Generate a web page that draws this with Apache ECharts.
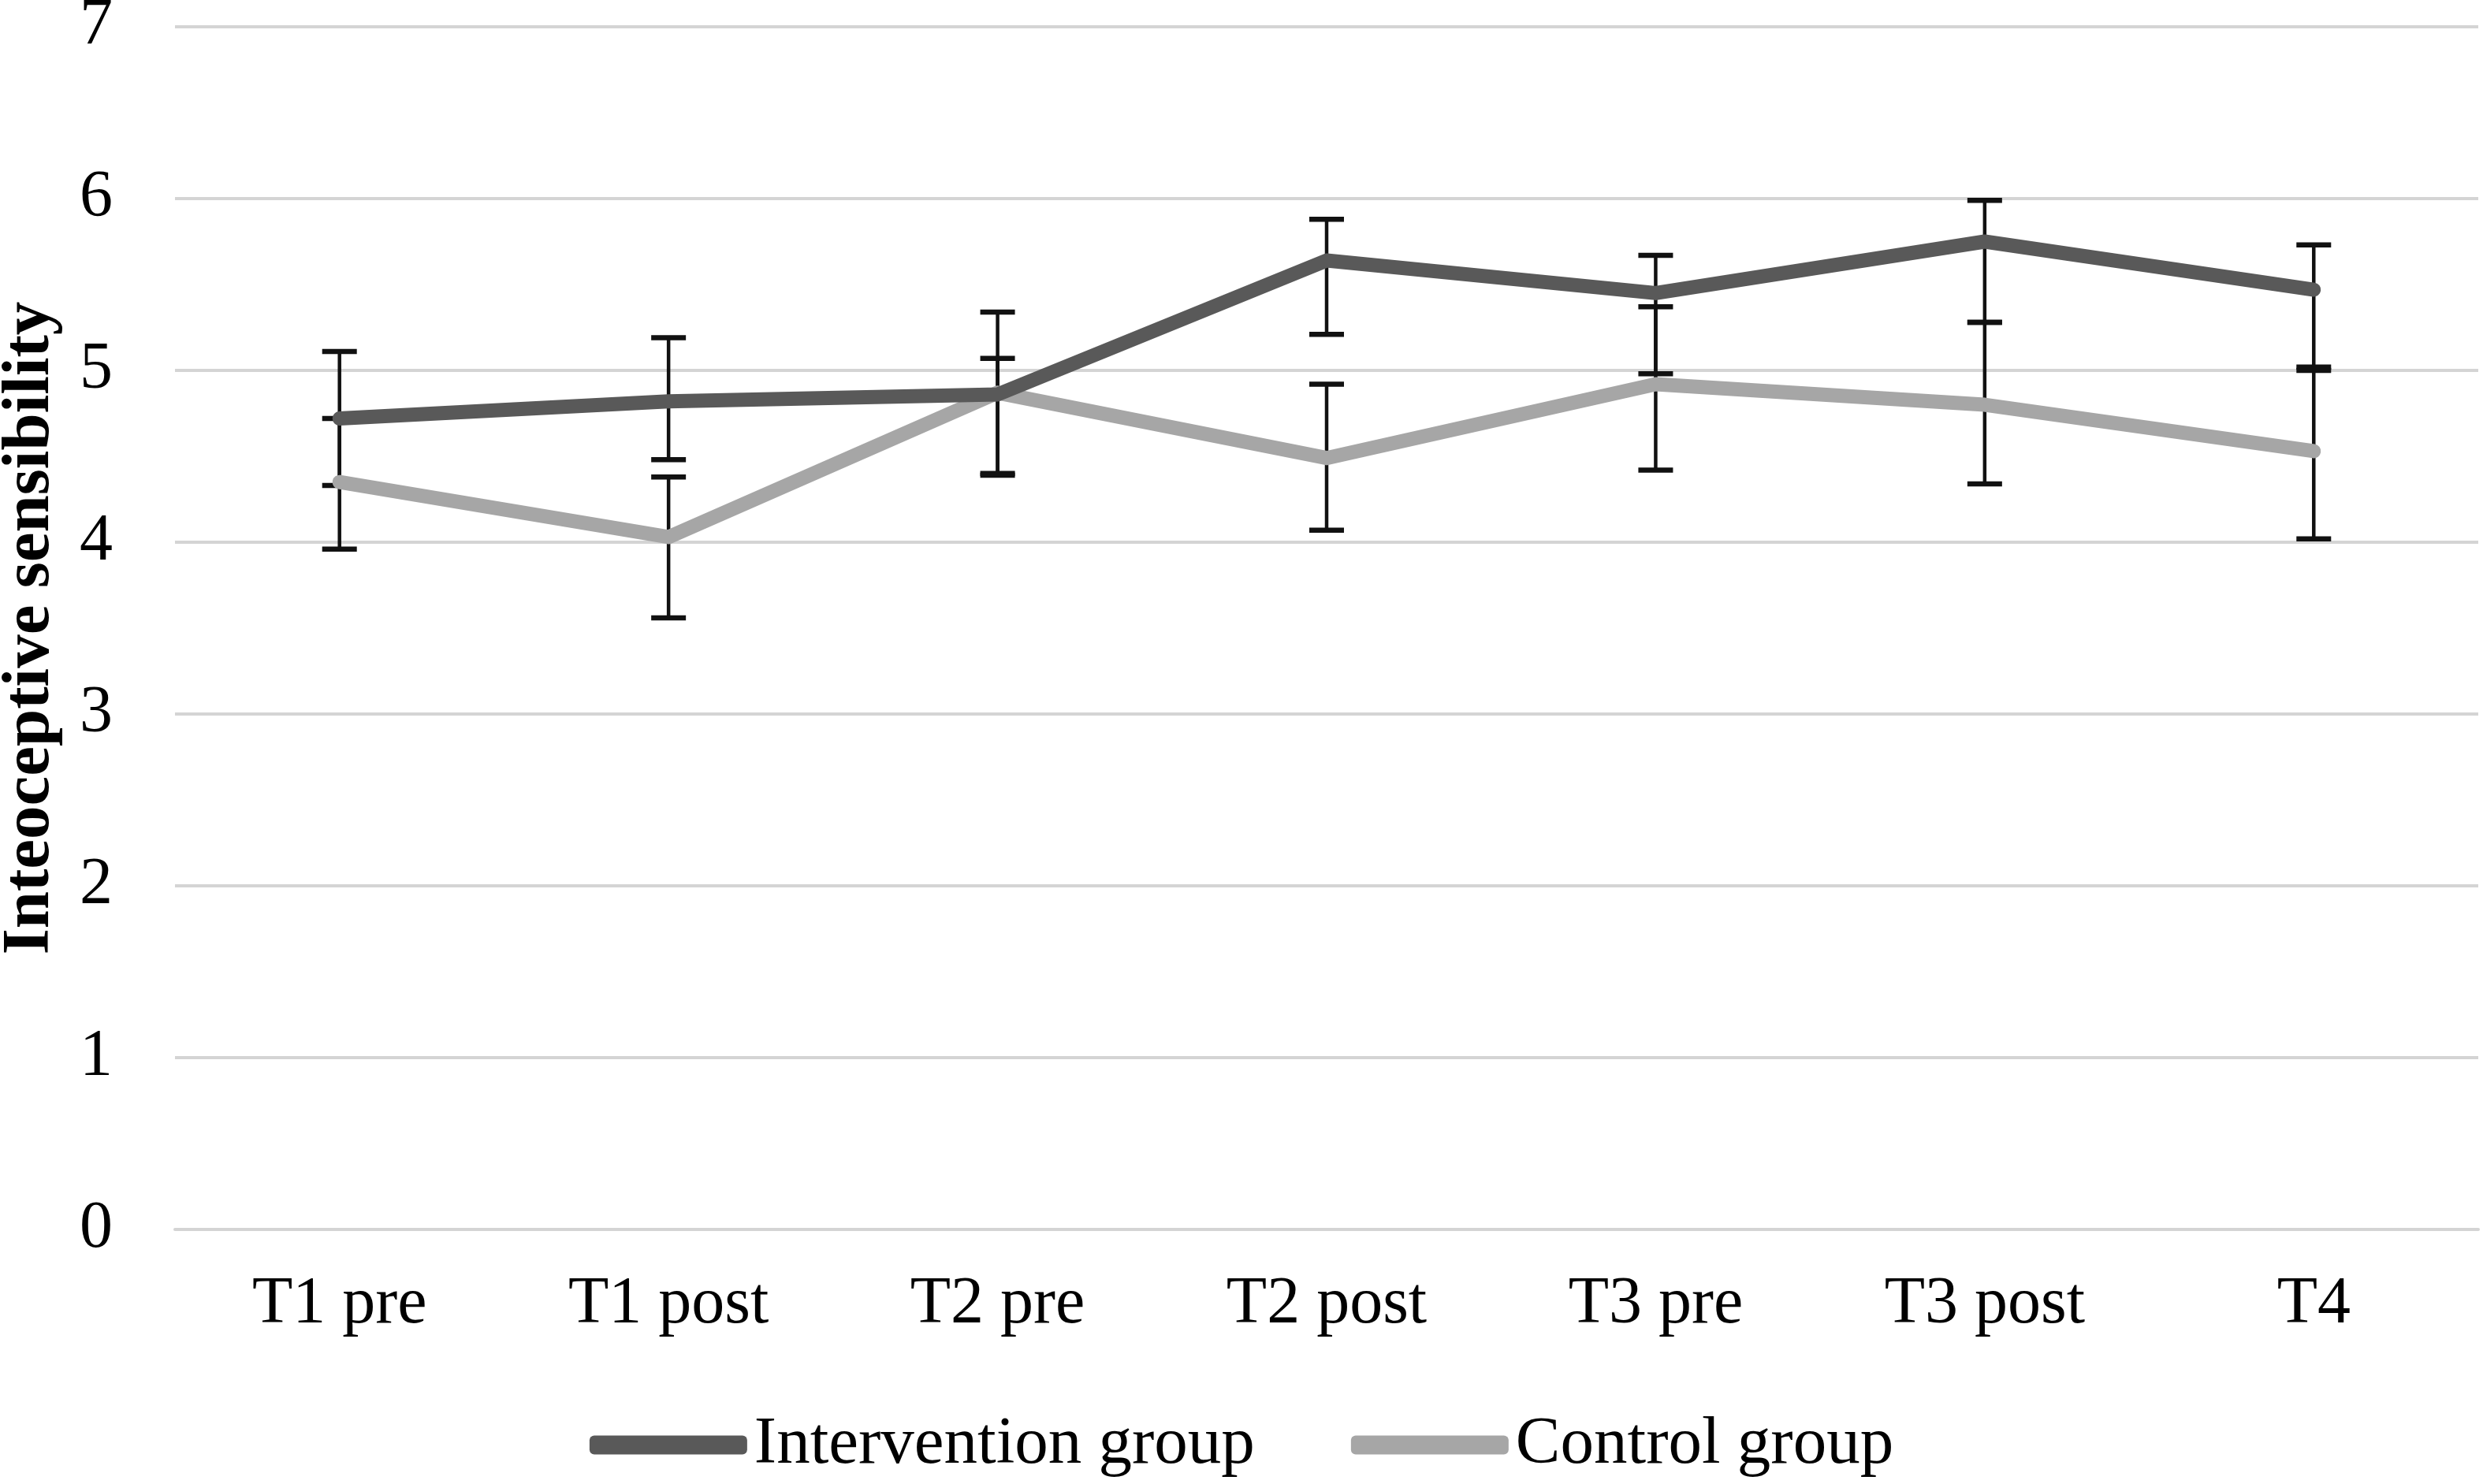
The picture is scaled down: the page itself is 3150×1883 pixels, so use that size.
<!DOCTYPE html>
<html>
<head>
<meta charset="utf-8">
<script src="https://cdn.jsdelivr.net/npm/echarts@6/dist/echarts.min.js"></script>
<style>
html,body{margin:0;padding:0;background:#fff;}
#chart{width:3150px;height:1883px;}
</style>
</head>
<body>
<div id="chart"></div>
<script>
const categories = ['T1 pre', 'T1 post', 'T2 pre', 'T2 post', 'T3 pre', 'T3 post', 'T4'];
const yTicks = [0, 1, 2, 3, 4, 5, 6, 7];

const interventionMean = [4.72, 4.82, 4.86, 5.64, 5.45, 5.75, 5.47];
const interventionLow  = [4.33, 4.48, 4.39, 5.21, 4.98, 5.28, 5.00];
const interventionHigh = [5.11, 5.19, 5.34, 5.88, 5.67, 5.99, 5.73];

const controlMean = [4.35, 4.03, 4.87, 4.49, 4.92, 4.80, 4.53];
const controlLow  = [3.96, 3.56, 4.40, 4.07, 4.42, 4.34, 4.02];
const controlHigh = [4.72, 4.38, 5.07, 4.92, 5.37, 5.28, 5.02];

const FONT = 'Liberation Serif';

function errData(lo, hi) {
  return categories.map((c, i) => [i, lo[i], hi[i]]);
}

function renderErr(params, api) {
  const x = api.value(0);
  const lo = api.coord([x, api.value(1)]);
  const hi = api.coord([x, api.value(2)]);
  const hw = 22;
  const st = { stroke: '#111', lineWidth: 6.5 };
  return {
    type: 'group',
    children: [
      { type: 'line', shape: { x1: lo[0], y1: lo[1], x2: hi[0], y2: hi[1] }, style: { stroke: '#111', lineWidth: 4.5 } },
      { type: 'line', shape: { x1: lo[0] - hw, y1: lo[1], x2: lo[0] + hw, y2: lo[1] }, style: st },
      { type: 'line', shape: { x1: hi[0] - hw, y1: hi[1], x2: hi[0] + hw, y2: hi[1] }, style: st }
    ]
  };
}

const chart = echarts.init(document.getElementById('chart'));
chart.setOption({
  animation: false,
  backgroundColor: '#ffffff',
  grid: { left: 222, right: 6, top: 34, bottom: 323, containLabel: false, outerBoundsMode: 'none' },
  legend: {
    data: ['Intervention group', 'Control group'],
    bottom: 2,
    left: 'center',
    icon: 'roundRect',
    itemWidth: 200,
    itemHeight: 24,
    itemGap: 122,
    textStyle: { fontFamily: FONT, fontSize: 85, color: '#000', padding: [0, 0, 0, 4] }
  },
  xAxis: {
    type: 'category',
    data: categories,
    boundaryGap: true,
    axisLine: { show: true, lineStyle: { color: '#d4d4d4', width: 4 } },
    axisTick: { show: false },
    axisLabel: { fontFamily: FONT, fontSize: 84, color: '#000', margin: 54 }
  },
  yAxis: {
    type: 'value',
    min: yTicks[0],
    max: yTicks[yTicks.length - 1],
    interval: 1,
    name: 'Inteoceptive sensibility',
    nameLocation: 'middle',
    nameGap: 140,
    nameRotate: 90,
    nameTextStyle: { fontFamily: FONT, fontSize: 85, fontWeight: 'bold', color: '#000' },
    axisLine: { show: false },
    axisTick: { show: false },
    axisLabel: { fontFamily: FONT, fontSize: 84, color: '#000', margin: 79 },
    splitLine: { show: true, lineStyle: { color: '#d4d4d4', width: 4 } }
  },
  series: [
    {
      type: 'custom',
      name: 'errI',
      renderItem: renderErr,
      data: errData(interventionLow, interventionHigh),
      encode: { x: 0, y: [1, 2] },
      z: 3,
      silent: true
    },
    {
      type: 'custom',
      name: 'errC',
      renderItem: renderErr,
      data: errData(controlLow, controlHigh),
      encode: { x: 0, y: [1, 2] },
      z: 3,
      silent: true
    },
    {
      type: 'line',
      name: 'Control group',
      data: controlMean,
      showSymbol: false,
      symbol: 'none',
      color: '#a6a6a6',
      lineStyle: { color: '#a6a6a6', width: 18, cap: 'round', join: 'round' },
      z: 4
    },
    {
      type: 'line',
      name: 'Intervention group',
      data: interventionMean,
      showSymbol: false,
      symbol: 'none',
      color: '#595959',
      lineStyle: { color: '#595959', width: 18, cap: 'round', join: 'round' },
      z: 5
    }
  ]
});
</script>
</body>
</html>
